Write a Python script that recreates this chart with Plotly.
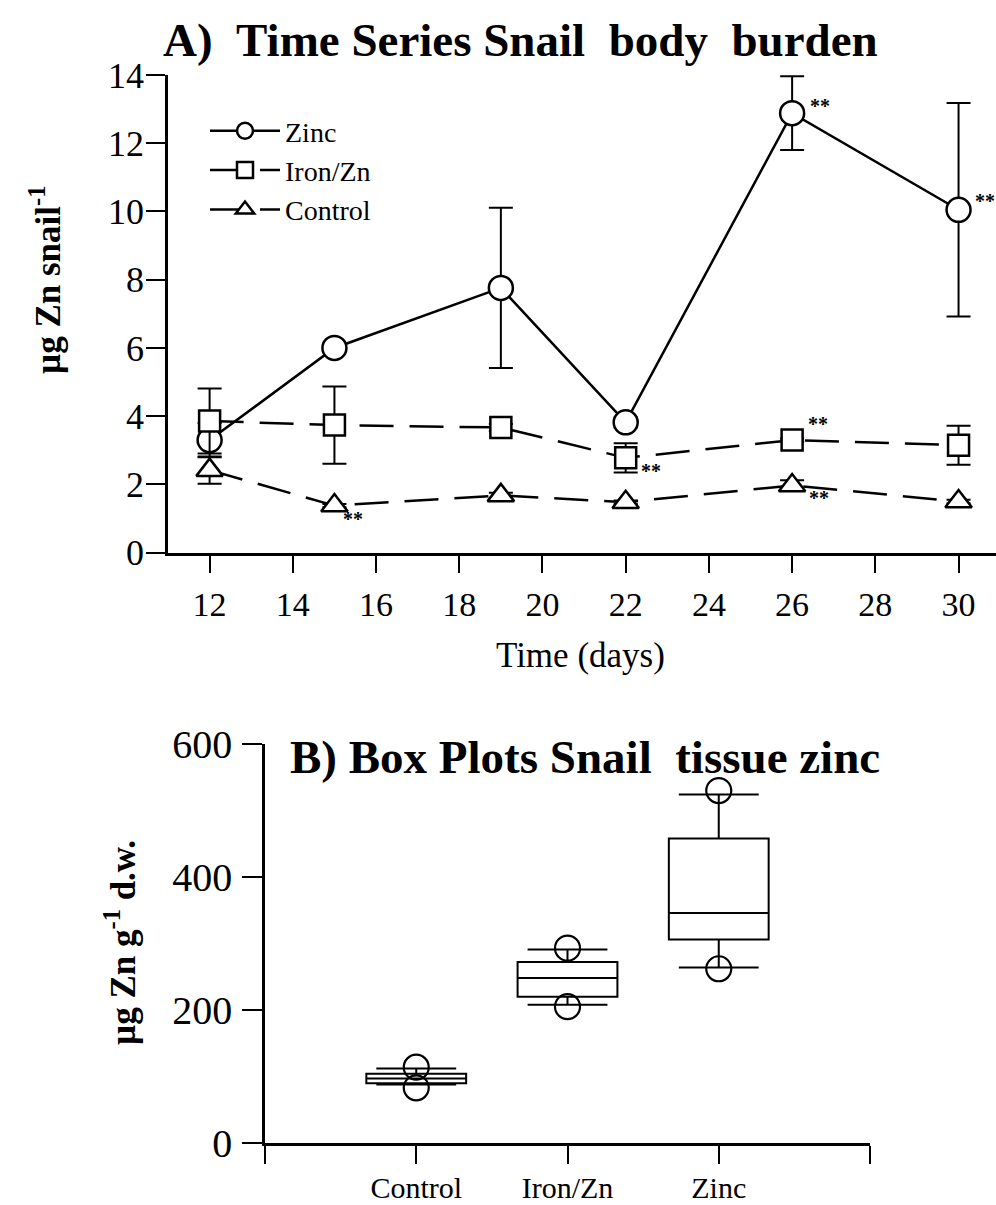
import plotly.graph_objects as go

# ---- Panel A: time series of snail body burden (µg Zn per snail) ----
days = [12, 15, 19, 22, 26, 30]

zinc_mean = [3.30, 6.00, 7.76, 3.82, 12.88, 10.05]
zinc_err = [0.50, 0.10, 2.35, 0.15, 1.08, 3.13]

iron_mean = [3.86, 3.74, 3.67, 2.78, 3.30, 3.15]
iron_err = [0.95, 1.13, 0.10, 0.43, 0.05, 0.57]

control_mean = [2.42, 1.38, 1.68, 1.48, 1.97, 1.50]
control_err = [0.40, 0.05, 0.08, 0.05, 0.15, 0.05]

time_ticks = [12, 14, 16, 18, 20, 22, 24, 26, 28, 30]
burden_ticks = [0, 2, 4, 6, 8, 10, 12, 14]

# significance markers (series, day) -> placed beside the point
signif = [
    ("control", 15), ("iron", 22), ("zinc", 26),
    ("iron", 26), ("control", 26), ("zinc", 30),
]

# ---- Panel B: box plots of tissue zinc (µg Zn per g dry weight) ----
groups = ["Control", "Iron/Zn", "Zinc"]
box_low = [88, 208, 264]
box_q1 = [90, 220, 306]
box_median = [97, 248, 346]
box_q3 = [104, 272, 458]
box_high = [112, 291, 524]
extreme_points = [[114, 83], [293, 205], [530, 262]]
tissue_ticks = [0, 200, 400, 600]

FONT = "Liberation Serif"
W, H = 996, 1205

fig = go.Figure()

styles = {
    "zinc": dict(name="Zinc", y=zinc_mean, err=zinc_err, symbol="circle", size=24, dash="solid"),
    "iron": dict(name="Iron/Zn", y=iron_mean, err=iron_err, symbol="square", size=21, dash="34px,16px"),
    "control": dict(name="Control", y=control_mean, err=control_err, symbol="triangle-up", size=23, dash="34px,16px"),
}

for key in ["zinc", "iron", "control"]:
    s = styles[key]
    fig.add_trace(go.Scatter(
        x=days, y=s["y"], name=s["name"], mode="lines+markers",
        line=dict(color="black", width=2.5, dash=s["dash"]),
        marker=dict(symbol=s["symbol"], size=s["size"], color="white",
                    line=dict(color="black", width=2.5)),
        error_y=dict(type="data", array=s["err"], visible=True,
                     color="black", thickness=2, width=12),
        cliponaxis=False, xaxis="x", yaxis="y",
    ))

# "**" significance labels
offsets = {
    ("control", 15): (0.45, -0.40),
    ("iron", 22): (0.62, -0.38),
    ("zinc", 26): (0.68, 0.22),
    ("iron", 26): (0.62, 0.47),
    ("control", 26): (0.65, -0.36),
    ("zinc", 30): (0.63, 0.25),
}
for key, day in signif:
    i = days.index(day)
    dx, dy = offsets[(key, day)]
    fig.add_annotation(
        x=day + dx, y=styles[key]["y"][i] + dy, xref="x", yref="y",
        text="<b>**</b>", showarrow=False,
        font=dict(family=FONT, size=20, color="black"),
    )

# box plots
for i, g in enumerate(groups):
    fig.add_trace(go.Box(
        x=[i + 1], q1=[box_q1[i]], median=[box_median[i]], q3=[box_q3[i]],
        lowerfence=[box_low[i]], upperfence=[box_high[i]],
        width=0.66, whiskerwidth=0.8, boxpoints=False,
        fillcolor="white", line=dict(color="black", width=2),
        showlegend=False, xaxis="x2", yaxis="y2", name=g,
    ))
    fig.add_trace(go.Scatter(
        x=[i + 1] * len(extreme_points[i]), y=extreme_points[i], mode="markers",
        marker=dict(symbol="circle-open", size=25, color="black", line=dict(width=2.2)),
        showlegend=False, cliponaxis=False, xaxis="x2", yaxis="y2",
    ))

axis_common = dict(
    showline=True, linecolor="black", linewidth=2.5, ticks="outside",
    tickcolor="black", tickwidth=2.2, showgrid=False, zeroline=False,
    mirror=False, automargin=False,
)

fig.update_layout(
    width=W, height=H,
    margin=dict(l=0, r=0, t=0, b=0, autoexpand=False),
    paper_bgcolor="white", plot_bgcolor="white",
    font=dict(family=FONT, color="black"),
    xaxis=dict(
        domain=[168 / W, 1.0], range=[11, 30.9], anchor="y",
        tickvals=time_ticks, ticktext=[str(t) for t in time_ticks],
        ticklen=18, tickfont=dict(size=34), ticklabelstandoff=2,
        **axis_common,
    ),
    yaxis=dict(
        domain=[1 - 552.7 / H, 1 - 75 / H], range=[0, 14], anchor="x",
        tickvals=burden_ticks, ticktext=[str(t) for t in burden_ticks],
        ticklen=19, tickfont=dict(size=36), ticklabelstandoff=-5,
        **axis_common,
    ),
    xaxis2=dict(
        domain=[265 / W, 870 / W], range=[0, 4], anchor="y2",
        tickvals=[0, 1, 2, 3, 4], ticktext=[""] + groups + [""],
        ticklen=18, tickfont=dict(size=30), ticklabelstandoff=-2,
        **axis_common,
    ),
    yaxis2=dict(
        domain=[1 - 1143 / H, 1 - 744 / H], range=[0, 600], anchor="x2",
        tickvals=tissue_ticks, ticktext=[str(t) for t in tissue_ticks],
        ticklen=20, tickfont=dict(size=40), ticklabelstandoff=2,
        **axis_common,
    ),
    legend=dict(
        x=205 / W, y=1 - 106 / H, xanchor="left", yanchor="top",
        font=dict(family=FONT, size=28), bgcolor="rgba(0,0,0,0)",
        tracegroupgap=0, itemwidth=70,
    ),
    showlegend=True,
)

NB = "\u00a0"
texts = [
    dict(text=f"<b>A){NB}{NB}Time Series Snail{NB}{NB}body{NB}{NB}burden</b>",
         x=520 / W, y=1 - 40 / H, size=47, angle=0),
    dict(text=f"<b>B) Box Plots Snail{NB}{NB}tissue zinc</b>",
         x=585 / W, y=1 - 757 / H, size=47, angle=0),
    dict(text="Time (days)", x=580 / W, y=1 - 655 / H, size=35, angle=0),
    dict(text="<b>µg Zn snail<sup>-1</sup></b>", x=45 / W, y=1 - 280 / H, size=35, angle=-90),
    dict(text=f"<b>µg Zn g<sup>-1</sup>{NB}d.w.</b>", x=120 / W, y=1 - 943 / H, size=35, angle=-90),
]
for t in texts:
    fig.add_annotation(
        text=t["text"], x=t["x"], y=t["y"], xref="paper", yref="paper",
        xanchor="center", yanchor="middle", showarrow=False, textangle=t["angle"],
        font=dict(family=FONT, size=t["size"], color="black"),
    )

fig.write_html("out.html")
